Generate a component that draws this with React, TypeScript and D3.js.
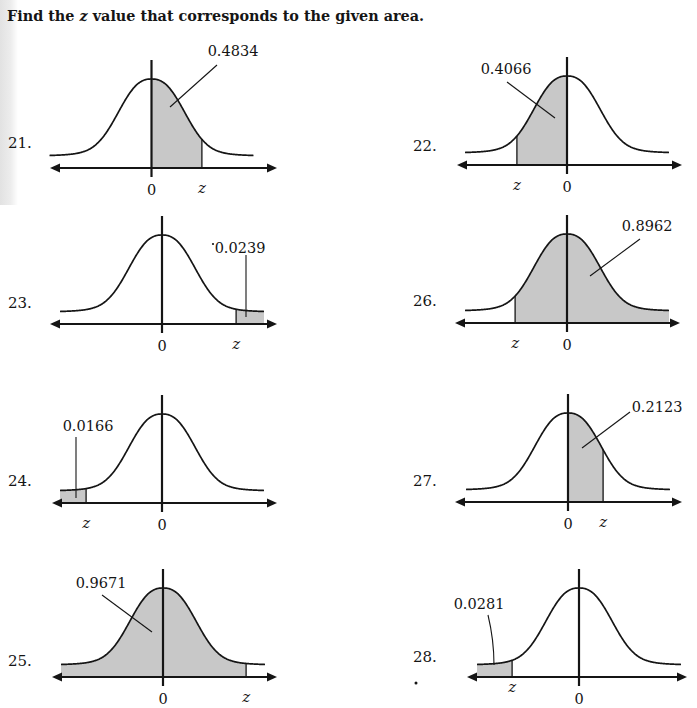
import React from "react";
import * as d3 from "d3";

// ---- data ----
const problems = ["21.", "22.", "23.", "26.", "24.", "27.", "25.", "28."];
const areas = ["0.4834", "0.4066", "0.0239", "0.8962", "0.0166", "0.2123", "0.9671", "0.0281"];
// where the z line is drawn, in the horizontal units of each sketch
const zMarks = [1.68, -1.67, 2.47, -1.73, -2.53, 1.17, 2.77, -2.23];
// which part of the curve is shaded
const shadeKinds = ["0-z", "z-0", "z-right", "z-right", "left-z", "0-z", "left-z", "left-z"];
const tickZero = "0";
const tickZ = "z";
const title = ["Find the ", "z", " value that corresponds to the given area."];

// ---- layout (pixels) ----
const layout = [
  { cx: 151.5, ay: 168, aL: 50, aR: 277, nx: 8, ny: 142, lx: 233, ly: 50, l1: [217, 65], l2: [170, 107] },
  { cx: 567, ay: 165, aL: 457, aR: 682, nx: 413, ny: 145, lx: 506, ly: 68, l1: [507, 82], l2: [555, 118] },
  { cx: 162, ay: 324, aL: 50, aR: 277, nx: 8, ny: 302, lx: 240, ly: 247, l1: [246, 255], l2: [246, 317] },
  { cx: 567, ay: 323, aL: 455, aR: 680, nx: 413, ny: 300, lx: 647, ly: 225, l1: [640, 239], l2: [590, 276] },
  { cx: 162, ay: 503, aL: 52, aR: 277, nx: 8, ny: 480, lx: 88, ly: 425, l1: [76, 437], l2: [76, 498] },
  { cx: 568, ay: 502, aL: 455, aR: 682, nx: 413, ny: 480, lx: 657, ly: 406, l1: [630, 412], l2: [582, 448] },
  { cx: 163, ay: 677, aL: 52, aR: 277, nx: 8, ny: 660, lx: 101, ly: 582, l1: [102, 595], l2: [152, 632] },
  { cx: 579, ay: 677, aL: 467, aR: 687, nx: 413, ny: 656, lx: 479, ly: 603, l1: [488, 615], l2: [494, 665] },
];

const UNIT_PX = 30;
const Z_MAX = 3.4;
const TAIL = 12;
const PEAK = 89;
const INK = "#151515";
const FILL = "#c8c8c8";
const SERIF = "'DejaVu Serif', serif";

// hand-drawn bell shape: flatter top than a pure Gaussian, with soft tails
const bell = (z: number) => {
  const d = Math.abs(z * UNIT_PX);
  return 0.88 * Math.exp(-Math.pow(d / 40.5, 2.5)) + 0.12 * Math.exp(-Math.pow(d / 60, 2));
};

function Panel({ i }: { i: number }) {
  const L = layout[i];
  const x = d3.scaleLinear().domain([-1, 1]).range([L.cx - UNIT_PX, L.cx + UNIT_PX]);
  const y = d3.scaleLinear().domain([0, 1]).range([L.ay - TAIL, L.ay - PEAK]);
  const zs = d3.range(-Z_MAX, Z_MAX + 1e-9, 0.02);
  const line = d3.line<number>().x((d) => x(d)).y((d) => y(bell(d))).curve(d3.curveBasis);
  const z = zMarks[i];
  const kind = shadeKinds[i];
  let a = 0, b = 0;
  if (kind === "0-z") { a = 0; b = z; }
  else if (kind === "z-0") { a = z; b = 0; }
  else if (kind === "z-right") { a = z; b = Z_MAX; }
  else { a = -Z_MAX; b = z; }
  const sz = d3.range(a, b, 0.02).concat([b]);
  const area = d3.area<number>().x((d) => x(d)).y0(L.ay).y1((d) => y(bell(d)));
  const head = 10, hw = 4.5;
  const isCurved = i === 7;
  const leader = isCurved
    ? `M${L.l1[0]},${L.l1[1]} Q${L.l1[0] + 6},${(L.l1[1] + L.l2[1]) / 2} ${L.l2[0]},${L.l2[1]}`
    : `M${L.l1[0]},${L.l1[1]} L${L.l2[0]},${L.l2[1]}`;
  return (
    <g>
      <path d={area(sz) || ""} fill={FILL} />
      <path d={line(zs) || ""} fill="none" stroke={INK} strokeWidth={1.7} />
      <line x1={L.aL + head - 1} x2={L.aR - head + 1} y1={L.ay} y2={L.ay} stroke={INK} strokeWidth={2.2} />
      <polygon points={`${L.aL},${L.ay} ${L.aL + head},${L.ay - hw} ${L.aL + head},${L.ay + hw}`} fill={INK} />
      <polygon points={`${L.aR},${L.ay} ${L.aR - head},${L.ay - hw} ${L.aR - head},${L.ay + hw}`} fill={INK} />
      <line x1={x(0)} x2={x(0)} y1={L.ay - 108} y2={L.ay + 9} stroke={INK} strokeWidth={2.2} />
      <line x1={x(z)} x2={x(z)} y1={y(bell(z))} y2={L.ay} stroke={INK} strokeWidth={1.3} />
      <path d={leader} fill="none" stroke={INK} strokeWidth={1.1} />
      <text x={L.lx} y={L.ly + 5.5} textAnchor="middle" fontFamily={SERIF} fontSize={14.5} fill={INK}>
        {areas[i]}
      </text>
      <text x={L.nx} y={L.ny + 5.5} fontFamily={SERIF} fontSize={15} fill={INK}>
        {problems[i]}
      </text>
      <text x={x(0)} y={L.ay + 21 + 5.5} textAnchor="middle" fontFamily={SERIF} fontSize={14.5} fill={INK}>
        {tickZero}
      </text>
      <text x={x(z)} y={L.ay + (i === 7 ? 11 : 21) + 4} textAnchor="middle" fontFamily={SERIF} fontStyle="italic" fontSize={15} fill={INK}>
        {tickZ}
      </text>
    </g>
  );
}

export default function App() {
  return (
    <svg width={697} height={708} style={{ position: "absolute", left: 0, top: 0, background: "#fff" }}>
      <defs>
        <linearGradient id="band" x1="0" x2="1" y1="0" y2="0">
          <stop offset="0" stopColor="#e2e2e2" />
          <stop offset="0.6" stopColor="#ededed" />
          <stop offset="1" stopColor="#ffffff" />
        </linearGradient>
      </defs>
      <rect x={0} y={0} width={697} height={708} fill="#fff" />
      <rect x={0} y={0} width={18} height={205} fill="url(#band)" />
      <text x={7} y={21} fontFamily={SERIF} fontWeight="bold" fontSize={14.4} fill={INK}>
        {title[0]}
        <tspan fontStyle="italic">{title[1]}</tspan>
        {title[2]}
      </text>
      {problems.map((_, i) => (
        <Panel key={i} i={i} />
      ))}
      <circle cx={213} cy={244} r={1.1} fill={INK} />
      <circle cx={416} cy={683} r={1.5} fill={INK} />
    </svg>
  );
}
